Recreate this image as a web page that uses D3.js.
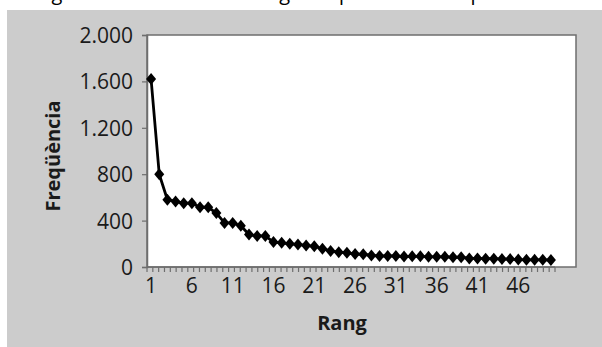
<!DOCTYPE html>
<html>
<head>
<meta charset="utf-8">
<script src="https://cdn.jsdelivr.net/npm/d3@7"></script>
<style>
  body { margin: 0; background: #fff; }
  svg { display: block; font-family: "Open Sans", "DejaVu Sans", sans-serif; }
</style>
</head>
<body>
<svg width="602" height="347"></svg>
<script>
// rang 1..50 and the frequency
var rangs = d3.range(1, 51);
var freqs = [1620, 800, 580, 565, 550, 550, 515, 515, 465, 380,
             380, 355, 280, 268, 268, 215, 208, 200, 194, 186,
             178, 158, 138, 128, 122, 112, 110, 100, 95, 95,
             95, 90, 92, 92, 88, 88, 88, 84, 84, 74,
             74, 72, 72, 68, 68, 64, 62, 62, 62, 60];
var yTicks = [0, 400, 800, 1200, 1600, 2000];
var xLabels = [1, 6, 11, 16, 21, 26, 31, 36, 41, 46];

var svg = d3.select("svg");
var caLocale = d3.formatLocale({decimal: ",", thousands: ".", grouping: [3], currency: ["", " €"]});
var fmt = caLocale.format(",");

var plot = {left: 147, top: 35, right: 576, bottom: 267};
var axisRight = 555;

// caption cut at the top of the picture, only the descenders show
svg.append("text")
    .attr("x", 345).attr("y", 0)
    .attr("text-anchor", "middle")
    .attr("font-size", 20)
    .text("Figura 2. Relació entre rang i freqüència de les paraules del corpus");

// gray chart area
svg.append("rect")
    .attr("x", 7).attr("y", 10)
    .attr("width", 595).attr("height", 337)
    .attr("fill", "#cccccc");

svg.append("rect")
    .attr("x", plot.left).attr("y", plot.top)
    .attr("width", plot.right - plot.left).attr("height", plot.bottom - plot.top)
    .attr("fill", "#fff")
    .attr("stroke", "#6e6e6e")
    .attr("stroke-width", 1.5);

var x = d3.scaleBand().domain(rangs).range([plot.left, axisRight]);
var y = d3.scaleLinear().domain([0, 2000]).range([plot.bottom, plot.top]);

// y axis
var yAxis = svg.append("g")
    .attr("transform", "translate(" + plot.left + ",0)")
    .call(d3.axisLeft(y).tickValues(yTicks).tickFormat(fmt).tickSize(5).tickPadding(9));
yAxis.select(".domain").attr("stroke", "#6e6e6e").attr("stroke-width", 1.5);
yAxis.selectAll(".tick line").attr("stroke", "#6e6e6e").attr("stroke-width", 1.2);
yAxis.selectAll(".tick text")
    .attr("font-size", 21)
    .attr("font-family", "'Open Sans', sans-serif")
    .attr("fill", "#1a1a1a")
    .attr("dy", "0.36em");

// x axis: small tick marks, labels every 5 rangs
var tickScale = d3.scaleLinear().domain([0, 70]).range([plot.left, axisRight]);
svg.append("g").selectAll("line")
    .data(d3.range(71))
    .join("line")
    .attr("x1", function(d) { return tickScale(d); })
    .attr("x2", function(d) { return tickScale(d); })
    .attr("y1", plot.bottom)
    .attr("y2", plot.bottom + 5)
    .attr("stroke", "#6e6e6e")
    .attr("stroke-width", 1.2);

svg.append("line")
    .attr("x1", plot.left).attr("x2", axisRight)
    .attr("y1", plot.bottom).attr("y2", plot.bottom)
    .attr("stroke", "#6e6e6e").attr("stroke-width", 1.5);

svg.append("g").selectAll("text")
    .data(xLabels)
    .join("text")
    .attr("x", function(d) { return x(d) + x.bandwidth() / 2; })
    .attr("y", 293)
    .attr("text-anchor", "middle")
    .attr("font-size", 21)
    .attr("fill", "#1a1a1a")
    .text(function(d) { return d; });

// axis titles
svg.append("text")
    .attr("x", 342).attr("y", 330)
    .attr("text-anchor", "middle")
    .attr("font-size", 20)
    .attr("font-weight", "bold")
    .attr("fill", "#1a1a1a")
    .text("Rang");

svg.append("text")
    .attr("transform", "translate(60,156) rotate(-90)")
    .attr("text-anchor", "middle")
    .attr("font-size", 20)
    .attr("font-weight", "bold")
    .attr("fill", "#1a1a1a")
    .text("Freqüència");

// series
var data = rangs.map(function(r, i) { return {rang: r, freq: freqs[i]}; });
var line = d3.line()
    .x(function(d) { return x(d.rang) + x.bandwidth() / 2; })
    .y(function(d) { return y(d.freq); });

svg.append("path")
    .datum(data)
    .attr("d", line)
    .attr("fill", "none")
    .attr("stroke", "#000")
    .attr("stroke-width", 2.8)
    .attr("stroke-linejoin", "round");

svg.append("g").selectAll("path")
    .data(data)
    .join("path")
    .attr("transform", function(d) { return "translate(" + (x(d.rang) + x.bandwidth() / 2) + "," + y(d.freq) + ")"; })
    .attr("d", "M0,-6L5,0L0,6L-5,0Z")
    .attr("fill", "#000");
</script>
</body>
</html>
